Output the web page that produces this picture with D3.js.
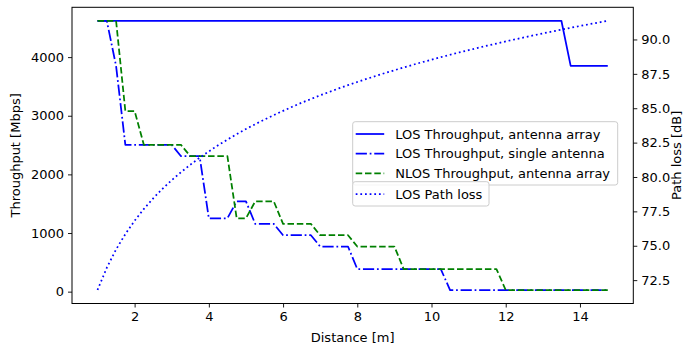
<!DOCTYPE html>
<html>
<head>
<meta charset="utf-8">
<script src="https://cdn.jsdelivr.net/npm/d3@7"></script>
<style>
  body { margin: 0; background: #fff; }
  svg { display: block; font-family: "DejaVu Sans", sans-serif; }
</style>
</head>
<body>
<svg id="chart" width="684" height="345"></svg>
<script>
// distance grid [m]
var distance = [1, 1.25, 1.5, 1.75, 2, 2.25, 2.5, 2.75, 3, 3.25, 3.5, 3.75, 4, 4.25, 4.5, 4.75,
  5, 5.25, 5.5, 5.75, 6, 6.25, 6.5, 6.75, 7, 7.25, 7.5, 7.75, 8, 8.25, 8.5, 8.75,
  9, 9.25, 9.5, 9.75, 10, 10.25, 10.5, 10.75, 11, 11.25, 11.5, 11.75, 12, 12.25, 12.5, 12.75,
  13, 13.25, 13.5, 13.75, 14, 14.25, 14.5, 14.75];

// throughput [Mbps]
var losArray = [4620, 4620, 4620, 4620, 4620, 4620, 4620, 4620, 4620, 4620, 4620, 4620, 4620, 4620, 4620, 4620,
  4620, 4620, 4620, 4620, 4620, 4620, 4620, 4620, 4620, 4620, 4620, 4620, 4620, 4620, 4620, 4620,
  4620, 4620, 4620, 4620, 4620, 4620, 4620, 4620, 4620, 4620, 4620, 4620, 4620, 4620, 4620, 4620,
  4620, 4620, 4620, 3850, 3850, 3850, 3850, 3850];

var losSingle = [4620, 4620, 3850, 2502.5, 2502.5, 2502.5, 2502.5, 2502.5, 2502.5, 2310, 2310, 2310,
  1251.25, 1251.25, 1251.25, 1540, 1540, 1155, 1155, 1155, 962.5, 962.5, 962.5, 962.5,
  770, 770, 770, 770, 385, 385, 385, 385, 385, 385, 385, 385, 385, 385,
  27.5, 27.5, 27.5, 27.5, 27.5, 27.5, 27.5, 27.5, 27.5, 27.5, 27.5, 27.5, 27.5, 27.5, 27.5, 27.5, 27.5, 27.5];

var nlosArray = [4620, 4620, 4620, 3080, 3080, 2502.5, 2502.5, 2502.5, 2502.5, 2502.5,
  2310, 2310, 2310, 2310, 2310, 1251.25, 1251.25, 1540, 1540, 1540, 1155, 1155, 1155, 1155,
  962.5, 962.5, 962.5, 962.5, 770, 770, 770, 770, 770,
  385, 385, 385, 385, 385, 385, 385, 385, 385, 385, 385,
  27.5, 27.5, 27.5, 27.5, 27.5, 27.5, 27.5, 27.5, 27.5, 27.5, 27.5, 27.5];

// path loss [dB]
var pathLoss = [71.78, 73.40, 74.73, 75.85, 76.82, 77.68, 78.45, 79.14, 79.77, 80.35, 80.89, 81.40,
  81.86, 82.31, 82.72, 83.11, 83.49, 83.84, 84.18, 84.50, 84.81, 85.11, 85.40, 85.67,
  85.94, 86.19, 86.44, 86.68, 86.91, 87.13, 87.35, 87.56, 87.76, 87.96, 88.16, 88.35,
  88.53, 88.71, 88.89, 89.06, 89.22, 89.39, 89.55, 89.70, 89.86, 90.01, 90.15, 90.30,
  90.44, 90.58, 90.71, 90.85, 90.98, 91.11, 91.23, 91.36];

var xTicks = [2, 4, 6, 8, 10, 12, 14];
var yTicks = [0, 1000, 2000, 3000, 4000];
var y2Ticks = [72.5, 75, 77.5, 80, 82.5, 85, 87.5, 90];

var legendLabels = ["LOS Throughput, antenna array", "LOS Throughput, single antenna", "NLOS Throughput, antenna array"];
var legend2Labels = ["LOS Path loss"];

var W = 684, H = 345;
var margin = { top: 7.3, right: 50.7, bottom: 41.5, left: 72 };
var fs = 13;

var svg = d3.select("#chart");

// matplotlib-like 5% padding
function pad(ext) {
  var d = (ext[1] - ext[0]) * 0.05;
  return [ext[0] - d, ext[1] + d];
}

var allThr = losArray.concat(losSingle, nlosArray);

var x = d3.scaleLinear().domain(pad(d3.extent(distance))).range([margin.left, W - margin.right]);
var y = d3.scaleLinear().domain(pad(d3.extent(allThr))).range([H - margin.bottom, margin.top]);
var y2 = d3.scaleLinear().domain(pad(d3.extent(pathLoss))).range([H - margin.bottom, margin.top]);

var lw = 1.75;

var series = [
  { vals: losArray, scale: y, color: "#0000ff", dash: null },
  { vals: losSingle, scale: y, color: "#0000ff", dash: "11.2,2.8,1.75,2.8" },
  { vals: nlosArray, scale: y, color: "#008000", dash: "6.5,2.8" },
  { vals: pathLoss, scale: y2, color: "#0000ff", dash: "1.75,2.9" }
];

var plot = svg.append("g");
series.forEach(function (s) {
  var line = d3.line()
    .x(function (d, i) { return x(distance[i]); })
    .y(function (d) { return s.scale(d); });
  plot.append("path")
    .datum(s.vals)
    .attr("d", line)
    .attr("fill", "none")
    .attr("stroke", s.color)
    .attr("stroke-width", lw)
    .attr("stroke-dasharray", s.dash)
    .attr("stroke-linejoin", "round");
});

// axes
function styleAxis(g) {
  g.select(".domain").remove();
  g.selectAll(".tick line").attr("stroke", "#000").attr("stroke-width", 0.9);
  g.selectAll(".tick text").attr("fill", "#000").style("font-size", fs + "px").style("font-family", "DejaVu Sans");
}

svg.append("g")
  .attr("transform", "translate(0," + (H - margin.bottom) + ")")
  .call(d3.axisBottom(x).tickValues(xTicks).tickSize(4).tickPadding(4).tickFormat(d3.format("d")))
  .call(styleAxis);

svg.append("g")
  .attr("transform", "translate(" + margin.left + ",0)")
  .call(d3.axisLeft(y).tickValues(yTicks).tickSize(4).tickPadding(4).tickFormat(d3.format("d")))
  .call(styleAxis);

svg.append("g")
  .attr("transform", "translate(" + (W - margin.right) + ",0)")
  .call(d3.axisRight(y2).tickValues(y2Ticks).tickSize(4).tickPadding(4).tickFormat(d3.format(".1f")))
  .call(styleAxis);

// frame
svg.append("rect")
  .attr("x", margin.left).attr("y", margin.top)
  .attr("width", W - margin.left - margin.right)
  .attr("height", H - margin.top - margin.bottom)
  .attr("fill", "none").attr("stroke", "#000").attr("stroke-width", 1);

// axis labels
var midY = (margin.top + H - margin.bottom) / 2;
svg.append("text")
  .attr("x", (margin.left + W - margin.right) / 2).attr("y", 342)
  .attr("text-anchor", "middle").style("font-size", fs + "px")
  .text("Distance [m]");
svg.append("text")
  .attr("transform", "translate(20," + midY + ") rotate(-90)")
  .attr("text-anchor", "middle").style("font-size", fs + "px")
  .text("Throughput [Mbps]");
svg.append("text")
  .attr("transform", "translate(680.5," + midY + ") rotate(-90)")
  .attr("text-anchor", "middle").style("font-size", fs + "px")
  .text("Path loss [dB]");

// legends
function drawLegend(items, x0, y0, w, h, rowY) {
  var g = svg.append("g");
  g.append("rect")
    .attr("x", x0).attr("y", y0).attr("width", w).attr("height", h)
    .attr("rx", 2.5).attr("fill", "#fff").attr("fill-opacity", 0.8)
    .attr("stroke", "#cccccc").attr("stroke-width", 1);
  items.forEach(function (it, i) {
    var yy = rowY + i * 19.7;
    g.append("line")
      .attr("x1", x0 + 3).attr("x2", x0 + 31.5)
      .attr("y1", yy).attr("y2", yy)
      .attr("stroke", it.color).attr("stroke-width", lw)
      .attr("stroke-dasharray", it.dash);
    g.append("text")
      .attr("x", x0 + 42.5).attr("y", yy).attr("dy", "0.35em")
      .style("font-size", fs + "px")
      .text(it.label);
  });
}

drawLegend(legendLabels.map(function (l, i) {
  return { label: l, color: series[i].color, dash: series[i].dash };
}), 352.7, 121.7, 265, 63.3, 134);

drawLegend(legend2Labels.map(function (l) {
  return { label: l, color: series[3].color, dash: series[3].dash };
}), 352.7, 181.7, 136.3, 24.3, 194);
</script>
</body>
</html>
